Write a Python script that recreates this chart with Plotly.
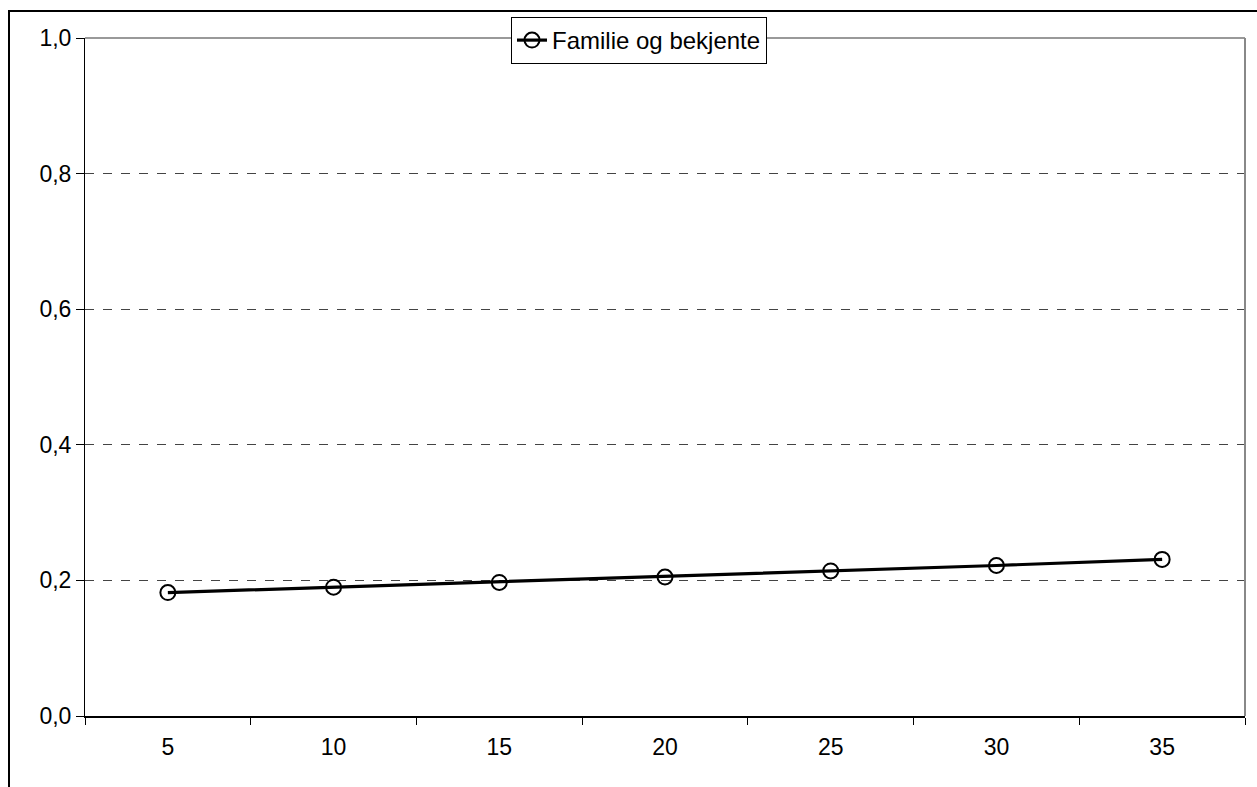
import plotly.graph_objects as go

categories = ["5", "10", "15", "20", "25", "30", "35"]
values = [0.182, 0.190, 0.197, 0.205, 0.214, 0.222, 0.231]
series_name = "Familie og bekjente"
y_ticks = [0.0, 0.2, 0.4, 0.6, 0.8, 1.0]
y_tick_labels = ["0,0", "0,2", "0,4", "0,6", "0,8", "1,0"]

W, H = 1257, 787
ml, mr, mt, mb = 85, 12, 38, 71
pw, ph = W - ml - mr, H - mt - mb

def px_x(p):
    return (p - ml) / pw

def px_y(p):
    return (H - mb - p) / ph

font = dict(family="Liberation Sans, Arial, sans-serif", size=23, color="black")
legend_font = dict(family="Liberation Sans, Arial, sans-serif", size=24, color="black")

fig = go.Figure()
fig.add_trace(go.Scatter(
    x=categories, y=values, name=series_name, mode="lines+markers",
    line=dict(color="black", width=3.2),
    marker=dict(symbol="circle-open", size=15, color="black", line=dict(width=2, color="black")),
    showlegend=True,
))

fig.update_layout(
    width=W, height=H,
    margin=dict(l=ml, r=mr, t=mt, b=mb),
    paper_bgcolor="white", plot_bgcolor="white",
    font=font,
    showlegend=True,
    legend=dict(x=px_x(639), y=px_y(17), xanchor="center", yanchor="top",
                bgcolor="white", bordercolor="black", borderwidth=1,
                font=legend_font, itemwidth=30, tracegroupgap=0),
    xaxis=dict(type="category", range=[-0.5, 6.5], tickson="boundaries", ticks="outside", ticklen=7,
               tickcolor="black", showgrid=False, showline=True, linecolor="black",
               linewidth=1.5, zeroline=False, tickfont=font, ticklabelstandoff=10),
    yaxis=dict(range=[0, 1.0], tickvals=y_ticks, ticktext=y_tick_labels,
               ticks="outside", ticklen=8, tickcolor="black", showline=True,
               linecolor="black", linewidth=1, showgrid=True, gridcolor="#444444",
               griddash="dash", gridwidth=1, zeroline=False, tickfont=font),
    shapes=[
        dict(type="line", xref="paper", yref="paper", x0=0, x1=1, y0=1, y1=1,
             line=dict(color="#999999", width=2), layer="below"),
        dict(type="line", xref="paper", yref="paper", x0=1, x1=1, y0=0, y1=1,
             line=dict(color="#888888", width=2), layer="above"),
        dict(type="line", xref="paper", yref="paper", x0=px_x(9), x1=px_x(9),
             y0=px_y(800), y1=px_y(11), line=dict(color="black", width=2)),
        dict(type="line", xref="paper", yref="paper", x0=px_x(8), x1=px_x(1270),
             y0=px_y(11), y1=px_y(11), line=dict(color="black", width=2)),
    ],
)

fig.write_html("out.html")
